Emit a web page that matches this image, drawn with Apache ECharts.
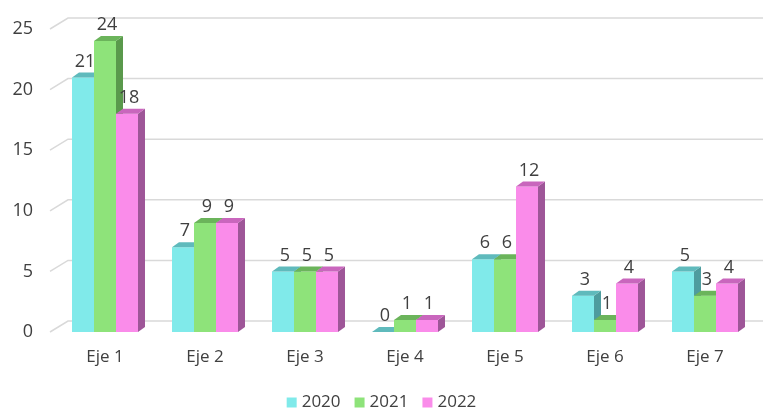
<!DOCTYPE html>
<html>
<head>
<meta charset="utf-8">
<script src="https://cdn.jsdelivr.net/npm/echarts@6/dist/echarts.min.js"></script>
<style>
  html, body { margin: 0; padding: 0; background: #fff; }
  #main { width: 763px; height: 408px; }
</style>
</head>
<body>
<div id="main"></div>
<script>
// datos
var categories = ['Eje 1', 'Eje 2', 'Eje 3', 'Eje 4', 'Eje 5', 'Eje 6', 'Eje 7'];
var years = ['2020', '2021', '2022'];
var values2020 = [21, 7, 5, 0, 6, 3, 5];
var values2021 = [24, 9, 5, 1, 6, 1, 3];
var values2022 = [18, 9, 5, 1, 12, 4, 4];
var yTicks = [0, 5, 10, 15, 20, 25];

// colores: frente, arriba, lado
var palette = [
  { front: '#80EAEA', top: '#5FBABC', side: '#4E9C9E' },
  { front: '#8EE37A', top: '#6BB45B', side: '#5A994C' },
  { front: '#FA8CEA', top: '#C966BD', side: '#9E5698' }
];

var BAR_W = 22;
var DX = 7, DY = -5;        // profundidad de barras
var GDX = 18, GDY = -11;    // profundidad de la pared del fondo

var chart = echarts.init(document.getElementById('main'));

function barRender(idx) {
  return function (params, api) {
    var cat = api.value(0);
    var val = api.value(1);
    var base = api.coord([cat, 0]);
    var top = api.coord([cat, val]);
    var x0 = base[0] - 1.5 * BAR_W + idx * BAR_W;
    var x1 = x0 + BAR_W;
    var yb = base[1], yt = top[1];
    var c = palette[idx];
    var children = [];
    if (yb - yt > 0) {
      children.push({
        type: 'rect',
        shape: { x: x0, y: yt, width: BAR_W, height: yb - yt },
        style: { fill: c.front }
      });
    }
    children.push({
      type: 'polygon',
      shape: { points: [[x1, yt], [x1 + DX, yt + DY], [x1 + DX, yb + DY], [x1, yb]] },
      style: { fill: c.side }
    });
    children.push({
      type: 'polygon',
      shape: { points: [[x0, yt], [x1, yt], [x1 + DX, yt + DY], [x0 + DX, yt + DY]] },
      style: { fill: c.top }
    });
    children.push({
      type: 'text',
      x: x0 + BAR_W / 2 + 2,
      y: yt + DY - 2,
      style: {
        text: String(val),
        fill: '#404040',
        font: '18px "Open Sans"',
        align: 'center',
        verticalAlign: 'bottom'
      }
    });
    return { type: 'group', children: children };
  };
}

function gridRender(params, api) {
  var p = api.coord([0, api.value(1)]);
  var cs = params.coordSys;
  var left = cs.x - 5;
  var y = p[1];
  return {
    type: 'polyline',
    shape: { points: [[left, y], [left + GDX, y + GDY], [cs.x + cs.width + 20, y + GDY]] },
    style: { stroke: '#D9D9D9', lineWidth: 1.5, fill: null }
  };
}

var seriesData = [values2020, values2021, values2022];
var series = [{
  type: 'custom',
  name: 'grid',
  silent: true,
  renderItem: gridRender,
  data: yTicks.map(function (v) { return [0, v]; }),
  z: 1
}];
years.forEach(function (y, i) {
  series.push({
    type: 'custom',
    name: y,
    itemStyle: { color: palette[i].front },
    renderItem: barRender(i),
    data: seriesData[i].map(function (v, k) { return [k, v]; }),
    z: 2 + i
  });
});

var option = {
  animation: false,
  textStyle: { fontFamily: 'Open Sans' },
  grid: { left: 55, right: 8, top: 29, bottom: 76 },
  legend: {
    data: years,
    top: 389,
    itemWidth: 10,
    itemHeight: 10,
    itemGap: 14,
    icon: 'rect',
    textStyle: { color: '#404040', fontSize: 17 }
  },
  xAxis: {
    type: 'category',
    data: categories,
    axisLine: { show: false },
    axisTick: { show: false },
    axisLabel: { color: '#404040', fontSize: 17, margin: 17 }
  },
  yAxis: {
    type: 'value',
    min: 0,
    max: 25,
    interval: 5,
    axisLine: { show: false },
    splitLine: { show: false },
    axisLabel: { color: '#404040', fontSize: 18, margin: 22 }
  },
  series: series
};

chart.setOption(option);
</script>
</body>
</html>
